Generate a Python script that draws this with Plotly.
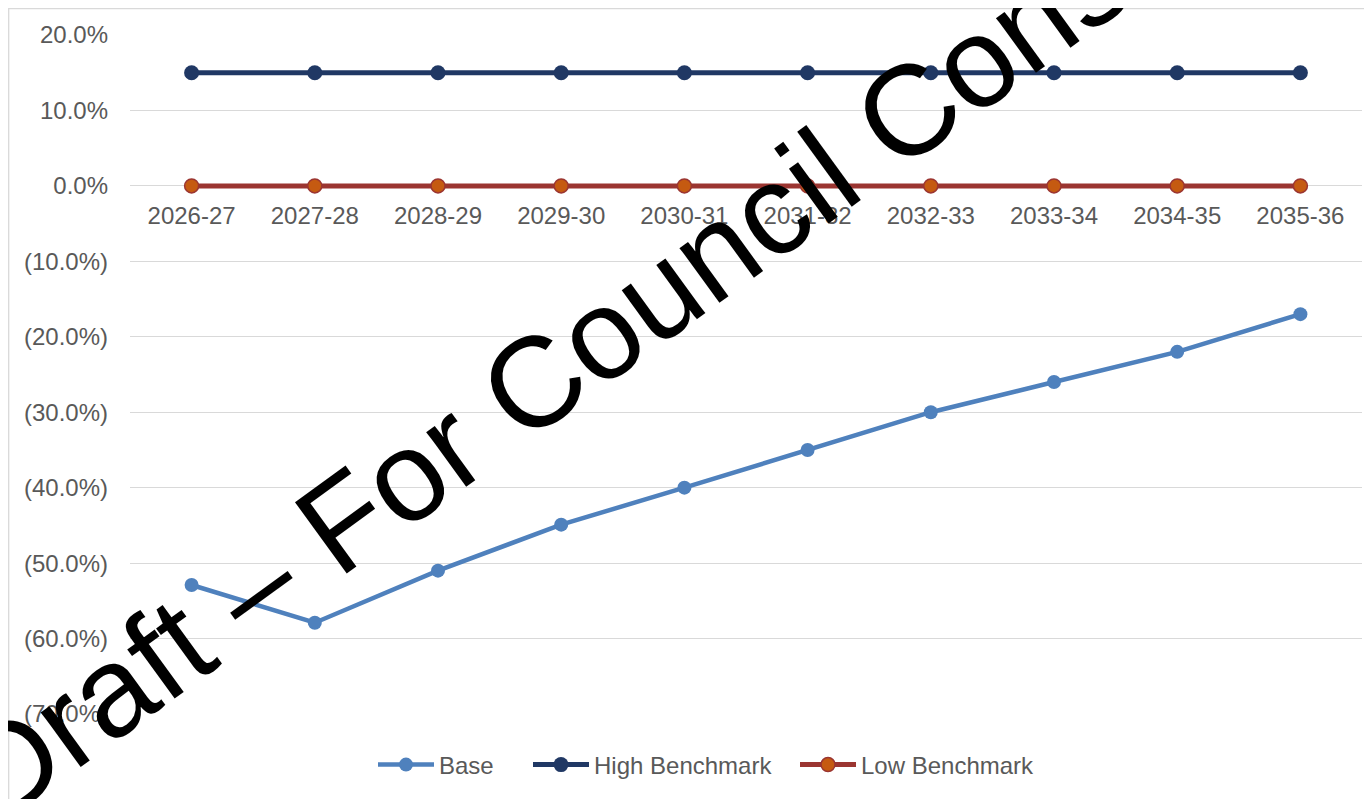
import plotly.graph_objects as go

years = ["2026-27", "2027-28", "2028-29", "2029-30", "2030-31",
         "2031-32", "2032-33", "2033-34", "2034-35", "2035-36"]
base = [-52.9, -57.9, -51.0, -44.9, -40.0, -35.0, -30.0, -26.0, -22.0, -17.0]
high_benchmark = [15, 15, 15, 15, 15, 15, 15, 15, 15, 15]
low_benchmark = [0, 0, 0, 0, 0, 0, 0, 0, 0, 0]

y_tickvals = [20, 10, 0, -10, -20, -30, -40, -50, -60, -70]
y_ticktext = ["20.0%", "10.0%", "0.0%", "(10.0%)", "(20.0%)", "(30.0%)",
              "(40.0%)", "(50.0%)", "(60.0%)", "(70.0%)"]

watermark_text = "Draft \u2013 For Council Consultation"

FONT = "Liberation Sans, Arial, sans-serif"
GREY = "#595959"

# figure geometry (page has an 8px body margin)
W, H = 1364, 791
ML, MR, MT, MB = 122, 10, 27, 85
PW = W - ML - MR
PH = H - MT - MB


def px(xp):
    return (xp - ML) / PW


def py(yp):
    return (H - MB - yp) / PH


fig = go.Figure()
fig.add_trace(go.Scatter(
    x=years, y=base, name="Base", mode="lines+markers", legend="legend",
    line=dict(color="#4f81bd", width=4.5),
    marker=dict(color="#4f81bd", size=14),
))
fig.add_trace(go.Scatter(
    x=years, y=high_benchmark, name="High Benchmark", mode="lines+markers", legend="legend2",
    line=dict(color="#203864", width=5),
    marker=dict(color="#203864", size=15),
))
fig.add_trace(go.Scatter(
    x=years, y=low_benchmark, name="Low Benchmark", mode="lines+markers", legend="legend3",
    line=dict(color="#9b3531", width=5),
    marker=dict(color="#c55a11", size=14, line=dict(color="#9b3531", width=1.5)),
))

leg_common = dict(orientation="h", y=py(757), yanchor="middle", xanchor="left",
                  font=dict(size=24, color=GREY, family=FONT),
                  bgcolor="rgba(0,0,0,0)", itemwidth=56)

fig.update_layout(
    width=W, height=H,
    margin=dict(l=ML, r=MR, t=MT, b=MB),
    paper_bgcolor="white", plot_bgcolor="white",
    font=dict(family=FONT, size=24, color=GREY),
    showlegend=True,
    legend=dict(x=px(365), **leg_common),
    legend2=dict(x=px(520), **leg_common),
    legend3=dict(x=px(787), **leg_common),
    xaxis=dict(
        type="category", range=[-0.5, 9.5],
        anchor="free", position=70 / 90, automargin=False,
        showgrid=False, zeroline=False, showline=False, ticks="",
        ticklabelstandoff=13,
        tickfont=dict(size=24, color=GREY, family=FONT),
    ),
    yaxis=dict(
        range=[-70, 20], tickvals=y_tickvals, ticktext=y_ticktext, automargin=False,
        showgrid=True, gridcolor="#d9d9d9", gridwidth=1.3,
        zeroline=False, showline=False, ticks="",
        ticklabelstandoff=21,
        tickfont=dict(size=24, color=GREY, family=FONT),
    ),
    shapes=[dict(type="rect", xref="paper", yref="paper",
                 x0=px(0.7), x1=1.2, y0=-0.3, y1=py(0.7),
                 line=dict(color="#d9d9d9", width=1.3), fillcolor="rgba(0,0,0,0)",
                 layer="below")],
    annotations=[dict(
        text=watermark_text, xref="paper", yref="paper",
        x=px(701), y=py(248),
        xanchor="center", yanchor="middle", showarrow=False,
        textangle=-36,
        font=dict(family=FONT, size=128, color="black"),
    )],
)

fig.write_html("out.html")
